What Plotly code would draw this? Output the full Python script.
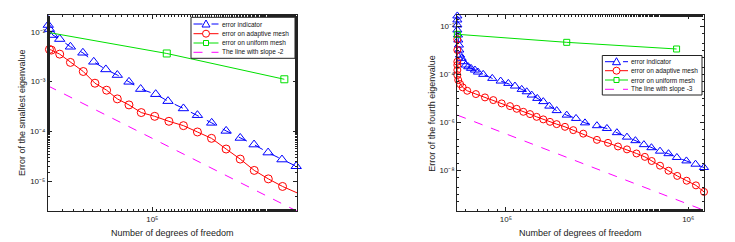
import plotly.graph_objects as go
from plotly.subplots import make_subplots

# ---------------- Left panel: smallest eigenvalue ----------------
L_ind_x = [29700, 29800, 30200, 31400, 34040, 38550, 44570, 50580, 58210, 66530, 76210, 87300,
           104000, 120000, 143600, 169000, 199500, 236000, 278000, 326600, 384600, 451900, 533300]
L_ind_y = [0.0217, 0.01365, 0.0113, 8.59e-3, 7.13e-3, 4.99e-3, 3.78e-3, 2.49e-3, 1.75e-3, 1.35e-3,
           9.86e-4, 7.06e-4, 5.57e-4, 4.04e-4, 2.88e-4, 2.11e-4, 1.48e-4, 1.02e-4, 7.36e-5, 5.42e-5,
           3.74e-5, 2.71e-5, 1.99e-5]
L_ada_x = [29700, 29700, 30200, 30900, 34040, 38550, 44770, 51290, 58750, 66530, 76210, 87900,
           102800, 121300, 143600, 169000, 199100, 236000, 278000, 327300, 385500, 455000, 538300]
L_ada_y = [4.99e-3, 4.28e-3, 4.41e-3, 4.28e-3, 3.55e-3, 2.42e-3, 1.59e-3, 9.25e-4, 6.70e-4, 4.48e-4,
           3.39e-4, 2.38e-4, 2.00e-4, 1.59e-4, 1.30e-4, 9.7e-5, 7.23e-5, 4.41e-5, 2.77e-5, 1.64e-5,
           1.11e-5, 7.82e-6, 5.82e-6]
L_uni_x = [29700, 118300, 464500]
L_uni_y = [9.7e-3, 3.66e-3, 1.11e-3]
L_ref_x = [29700, 538300]
L_ref_y = [8.18e-4, 2.49e-6]

# ---------------- Right panel: fourth eigenvalue ----------------
R_ind_x = [54100, 54100, 54100, 54100, 54550, 54750, 55200, 55450, 55950, 57150, 58300, 60100,
           62100, 64300, 67600, 70200, 75000, 84100, 93500, 103000, 112000, 122000, 130000,
           138400, 148500, 160200, 172900, 189800, 215400, 242300, 271300, 315500, 357900,
           406000, 461000, 513000, 571000, 628000, 700000, 779000, 866000, 977000, 1096000, 1220000]
R_ind_y = [0.0281, 0.0191, 0.0118, 7.28e-3, 4.5e-3, 2.78e-3, 1.71e-3, 1.06e-3, 6.55e-4, 4.76e-4,
           3.44e-4, 2.5e-4, 2.12e-4, 1.82e-4, 1.54e-4, 1.27e-4, 1.02e-4, 6.93e-5, 5.35e-5, 4.28e-5,
           3.31e-5, 2.40e-5, 1.91e-5, 1.39e-5, 1.01e-5, 7.41e-6, 4.81e-6, 3.12e-6, 2.02e-6, 1.47e-6,
           9.6e-7, 7.3e-7, 5.6e-7, 3.74e-7, 2.43e-7, 1.73e-7, 1.18e-7, 8.8e-8, 6.3e-8, 4.95e-8,
           3.44e-8, 2.47e-8, 1.8e-8, 1.31e-8]
R_ada_x = [54100, 54100, 54100, 54100, 54100, 54100, 54700, 56000, 57900, 61300, 68400, 76700,
           85200, 94700, 105200, 114500, 124500, 135500, 147300, 160200, 174300, 189700, 210700,
           234000, 265400, 315500, 362800, 411500, 461000, 520000, 578000, 630000, 700000,
           779000, 870000, 980000, 1102000, 1220000]
R_ada_y = [2.97e-3, 1.06e-3, 3.44e-4, 2.49e-4, 1.54e-4, 9.5e-5, 5.89e-5, 4.01e-5, 2.91e-5, 2.10e-5,
           1.53e-5, 1.11e-5, 8.57e-6, 6.24e-6, 4.81e-6, 3.71e-6, 2.78e-6, 2.23e-6, 1.71e-6, 1.34e-6,
           1.06e-6, 8.49e-7, 6.55e-7, 4.76e-7, 3.40e-7, 1.87e-7, 1.40e-7, 9.9e-8, 7.48e-8, 5.05e-8,
           3.64e-8, 2.45e-8, 1.56e-8, 9.6e-9, 5.83e-9, 3.67e-9, 2.35e-9, 1.25e-9]
R_uni_x = [54100, 215400, 863000]
R_uni_y = [4.8e-3, 2.22e-3, 1.17e-3]
R_ref_x = [54100, 1220000]
R_ref_y = [2.02e-6, 2.14e-10]

names = ["error indicator", "error on adaptive mesh", "error on uniform mesh"]
slope_names = ["The line with slope -2", "The line with slope -3"]
x_title = "Number of degrees of freedom"
y_titles = ["Error of the smallest eigenvalue", "Error of the fourth eigenvalue"]
L_xtick_vals, L_xtick_text = [1e5], ["10⁵"]
L_ytick_vals = [1e-5, 1e-4, 1e-3, 1e-2]
L_ytick_text = ["10⁻⁵", "10⁻⁴", "10⁻³", "10⁻²"]
R_xtick_vals, R_xtick_text = [1e5, 1e6], ["10⁵", "10⁶"]
R_ytick_vals = [1e-8, 1e-6, 1e-4, 1e-2]
R_ytick_text = ["10⁻⁸", "10⁻⁶", "10⁻⁴", "10⁻²"]

BLUE, RED, GREEN, MAG = "#0000ff", "#ff0000", "#00e000", "#ff00ff"
INK = "#222222"
FONT = "Liberation Sans, Arial, sans-serif"
W, H = 735, 242

fig = make_subplots(rows=1, cols=2)


def add_panel(col, ix, iy, ax, ay, ux, uy, rx, ry, slope_name, msize):
    fig.add_trace(go.Scatter(x=ix, y=iy, name=names[0], mode="lines+markers",
                             line=dict(color=BLUE, width=1, dash="dash"),
                             marker=dict(symbol="triangle-up-open", size=msize + 1, color=BLUE,
                                         line=dict(width=1, color=BLUE)),
                             cliponaxis=False), row=1, col=col)
    fig.add_trace(go.Scatter(x=ax, y=ay, name=names[1], mode="lines+markers",
                             line=dict(color=RED, width=1),
                             marker=dict(symbol="circle-open", size=msize, color=RED,
                                         line=dict(width=1, color=RED)),
                             cliponaxis=False), row=1, col=col)
    fig.add_trace(go.Scatter(x=ux, y=uy, name=names[2], mode="lines+markers",
                             line=dict(color=GREEN, width=1),
                             marker=dict(symbol="square-open", size=msize - 1, color=GREEN,
                                         line=dict(width=1, color=GREEN)),
                             cliponaxis=False), row=1, col=col)
    fig.add_trace(go.Scatter(x=rx, y=ry, name=slope_name, mode="lines",
                             line=dict(color=MAG, width=1, dash="dash")), row=1, col=col)


add_panel(1, L_ind_x, L_ind_y, L_ada_x, L_ada_y, L_uni_x, L_uni_y, L_ref_x, L_ref_y, slope_names[0], 8)
add_panel(2, R_ind_x, R_ind_y, R_ada_x, R_ada_y, R_uni_x, R_uni_y, R_ref_x, R_ref_y, slope_names[1], 7)

axis_common = dict(type="log", showline=True, linecolor=INK, linewidth=1, mirror="ticks",
                   ticks="inside", ticklen=4, tickcolor=INK, showgrid=False, zeroline=False,
                   automargin=False,
                   tickfont=dict(family=FONT, size=8, color=INK),
                   minor=dict(ticks="inside", ticklen=2, tickcolor=INK, showgrid=False))
fig.update_xaxes(axis_common)
fig.update_yaxes(axis_common)

ydom = [1 - 211 / H, 1 - 15 / H]
fig.update_xaxes(row=1, col=1, domain=[48 / W, 297 / W], range=[4.4728, 5.731],
                 tickvals=L_xtick_vals, ticktext=L_xtick_text)
fig.update_yaxes(row=1, col=1, domain=ydom, range=[-5.6, -1.664],
                 tickvals=L_ytick_vals, ticktext=L_ytick_text)
fig.update_xaxes(row=1, col=2, domain=[457.3 / W, 704.3 / W], range=[4.733, 6.088],
                 tickvals=R_xtick_vals, ticktext=R_xtick_text)
fig.update_yaxes(row=1, col=2, domain=ydom, range=[-9.70, -1.512],
                 tickvals=R_ytick_vals, ticktext=R_ytick_text)

ann = []
shapes = []


def px(x):
    return x / W


def py(y):
    return 1 - y / H


# ---- axis titles as annotations ----
for cx in (172.5, 580.8):
    ann.append(dict(text=x_title, x=px(cx), y=py(233), xref="paper", yref="paper",
                    showarrow=False, xanchor="center", yanchor="middle",
                    font=dict(family=FONT, size=9, color=INK)))
for cx, t in zip((22, 431.7), y_titles):
    ann.append(dict(text=t, x=px(cx), y=py(113), xref="paper", yref="paper",
                    showarrow=False, xanchor="center", yanchor="middle", textangle=-90,
                    font=dict(family=FONT, size=9, color=INK)))


# ---- hand-made compact legends (MATLAB style) ----
def legend_box(x0, y0, x1, y1, rows, line_x0, line_x1, text_x, labels):
    shapes.append(dict(type="rect", xref="paper", yref="paper", x0=px(x0), x1=px(x1),
                       y0=py(y1), y1=py(y0), line=dict(color=INK, width=1), fillcolor="white",
                       layer="above"))
    styles = [(BLUE, "dash", "tri"), (RED, "solid", "circ"), (GREEN, "solid", "sq"), (MAG, "dash", None)]
    mx = (line_x0 + line_x1) / 2
    for ry, lab, (col, dash, mk) in zip(rows, labels, styles):
        shapes.append(dict(type="line", xref="paper", yref="paper", x0=px(line_x0), x1=px(line_x1),
                           y0=py(ry), y1=py(ry), line=dict(color=col, width=1, dash=dash), layer="above"))
        if mk == "tri":
            path = "M {} {} L {} {} L {} {} Z".format(px(mx - 4), py(ry + 3), px(mx + 4), py(ry + 3),
                                                       px(mx), py(ry - 4))
            shapes.append(dict(type="path", xref="paper", yref="paper", path=path,
                               line=dict(color=col, width=1), fillcolor="white", layer="above"))
        elif mk == "circ":
            shapes.append(dict(type="circle", xref="paper", yref="paper", x0=px(mx - 3.5), x1=px(mx + 3.5),
                               y0=py(ry + 3.5), y1=py(ry - 3.5), line=dict(color=col, width=1),
                               fillcolor="white", layer="above"))
        elif mk == "sq":
            shapes.append(dict(type="rect", xref="paper", yref="paper", x0=px(mx - 2.5), x1=px(mx + 2.5),
                               y0=py(ry + 2.5), y1=py(ry - 2.5), line=dict(color=col, width=1),
                               fillcolor="white", layer="above"))
        ann.append(dict(text=lab, x=px(text_x), y=py(ry), xref="paper", yref="paper", showarrow=False,
                        xanchor="left", yanchor="middle", font=dict(family=FONT, size=6.5, color="#111")))


legend_box(191, 17.3, 295, 58.3, [24, 33.7, 43, 52.3], 193.5, 218.5, 219.5, names + [slope_names[0]])
legend_box(602.3, 55.5, 702, 95, [61.7, 70.7, 80, 89.3], 605, 628, 629, names + [slope_names[1]])

fig.update_layout(width=W, height=H, margin=dict(l=0, r=0, t=0, b=0),
                  paper_bgcolor="white", plot_bgcolor="white", showlegend=False,
                  hovermode=False, annotations=ann, shapes=shapes)

fig.write_html("out.html", config={"displayModeBar": False, "staticPlot": True},
               post_script="document.body.style.margin='0';document.body.style.overflow='hidden';")
